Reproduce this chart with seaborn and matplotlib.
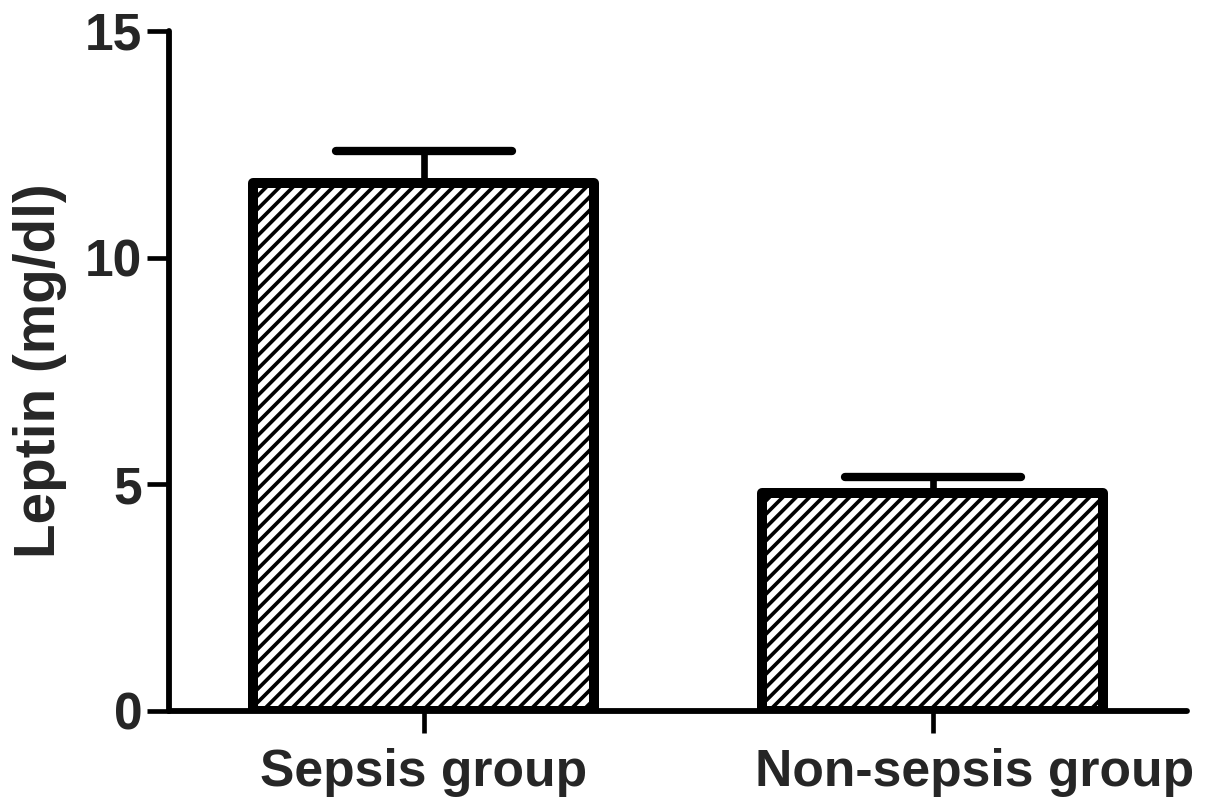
import numpy as np
import pandas as pd
import seaborn as sns
import matplotlib
matplotlib.use("Agg")
import matplotlib.pyplot as plt
from matplotlib.markers import MarkerStyle
from matplotlib.transforms import ScaledTranslation

# values
groups = ["Sepsis group", "Non-sepsis group"]
leptin_mean = [11.65, 4.80]
leptin_err = [0.70, 0.36]
y_ticks = [0, 5, 10, 15]

df = pd.DataFrame({"group": groups, "leptin": leptin_mean, "err": leptin_err})

sns.set_style("ticks")
plt.rcParams["font.family"] = ["Liberation Sans", "DejaVu Sans"]
plt.rcParams["font.weight"] = "bold"
plt.rcParams["hatch.linewidth"] = 2.2

dpi = 120
fig = plt.figure(figsize=(1205 / dpi, 804 / dpi), dpi=dpi)
ax = fig.add_axes([169 / 1205, 93 / 804, 1018 / 1205, 680 / 804])

sns.barplot(
    data=df,
    x="group",
    y="leptin",
    color="white",
    saturation=1,
    edgecolor="black",
    linewidth=6,
    width=0.67,
    errorbar=None,
    ax=ax,
    zorder=2,
)
for bar in ax.patches:
    bar.set_hatch("///")
    bar.set_joinstyle("round")

eb = ax.errorbar(
    x=np.arange(len(groups)),
    y=df["leptin"],
    yerr=[np.zeros(len(groups)), df["err"]],
    fmt="none",
    ecolor="black",
    elinewidth=4,
    capsize=53,
    capthick=5,
    zorder=1,
)
for cap in eb[1]:
    cap.set_marker(MarkerStyle("_", capstyle="round"))

ax.set_xlim(-0.5, 1.5)
ax.set_ylim(0, 15)
ax.set_yticks(y_ticks)
ax.set_xlabel("")
ax.set_ylabel("Leptin (mg/dl)", fontsize=34, fontweight="bold", labelpad=11)

sns.despine(ax=ax)
for side in ["left", "bottom"]:
    ax.spines[side].set_linewidth(3.5)
    ax.spines[side].set_color("black")
    ax.spines[side].set_capstyle("round")

ax.tick_params(axis="y", length=13, width=2.8, pad=3, labelsize=31, color="black")
ax.tick_params(axis="x", length=13, width=2.8, pad=9, labelsize=31, color="black")
for lab in ax.get_xticklabels() + ax.get_yticklabels():
    lab.set_fontweight("bold")

# the second group label sits a little right of its tick in the original
lab2 = ax.get_xticklabels()[1]
lab2.set_transform(lab2.get_transform() + ScaledTranslation(42 / dpi, 0, fig.dpi_scale_trans))

fig.savefig("out.png", dpi=dpi, facecolor="white")
